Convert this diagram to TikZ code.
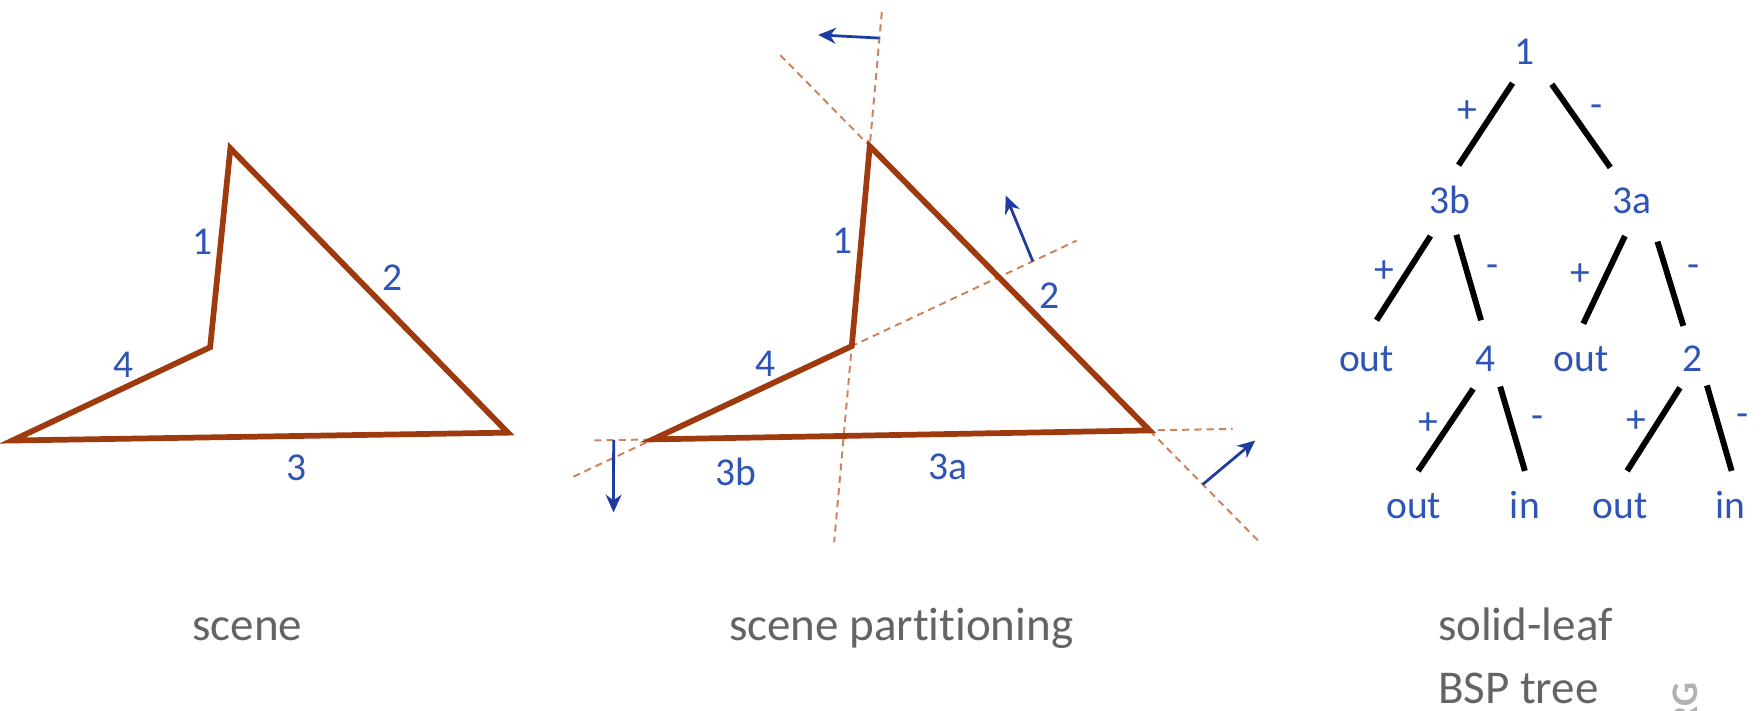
\documentclass[tikz,border=0pt]{standalone}
\usepackage{fontspec}
\setmainfont{Carlito}[Ligatures=NoCommon]
\usepackage{xcolor}
\usepackage{tikz}
\usetikzlibrary{
    arrows.meta,
    calc
}

\definecolor{wallbrown}{RGB}{158,58,14}
\definecolor{splitbrown}{RGB}{205,132,92}
\definecolor{normalblue}{RGB}{30,60,160}
\definecolor{labelblue}{RGB}{46,84,182}
\definecolor{captiongray}{RGB}{100,100,100}

\newcommand{\lblfont}{\fontsize{10}{12}\selectfont}
\newcommand{\capfont}{\fontsize{11.9}{14}\selectfont}

\begin{document}
\begin{tikzpicture}[
    x=0.01cm,
    y=-0.01cm,
    >={Stealth[length=4.5pt,width=4pt]},
    wall/.style={
        draw=wallbrown,
        line width=1.45pt
    },
    splitline/.style={
        draw=splitbrown,
        line width=0.5pt,
        dash pattern=on 1.8pt off 1.3pt
    },
    normalarrow/.style={
        ->,
        draw=normalblue,
        line width=0.7pt
    },
    lbl/.style={
        font=\lblfont,
        text=labelblue,
        inner sep=0pt
    },
    branch/.style={
        draw=black,
        line width=1.5pt
    },
    capt/.style={
        font=\capfont,
        text=captiongray,
        inner sep=0pt
    }
]

\useasboundingbox (0,0) rectangle (1568,632);

% ============================================================
% PANEL A -- SCENE
% ============================================================

\coordinate (sTop)   at (205,132);
\coordinate (sIn)    at (187,309);
\coordinate (sLeft)  at (11,392);
\coordinate (sRight) at (452,385);

\draw[wall]
    (sTop) -- (sRight) -- (sLeft) -- (sIn) -- cycle;

\node[lbl] (sEdge1) at (180,215) {1};
\node[lbl] (sEdge2) at (349,247) {2};
\node[lbl] (sEdge4) at (110,325) {4};
\node[lbl] (sEdge3) at (264,416) {3};

\node[capt, anchor=base] (capScene) at (220,570) {scene};

% ============================================================
% PANEL B -- SCENE PARTITIONING
% ============================================================

\coordinate (pTop)   at (774,130);
\coordinate (pIn)    at (758,308);
\coordinate (pLeft)  at (581,391);
\coordinate (pRight) at (1023,383);

% Splitting planes
\draw[splitline]
    ($(pTop)!-0.67!(pIn)$) -- ($(pTop)!1.98!(pIn)$);

\draw[splitline]
    ($(pTop)!-0.32!(pRight)$) -- ($(pTop)!1.395!(pRight)$);

\draw[splitline]
    ($(pLeft)!-0.40!(pIn)$) -- ($(pLeft)!2.13!(pIn)$);

\draw[splitline]
    ($(pLeft)!-0.118!(pRight)$) -- ($(pLeft)!1.167!(pRight)$);

% Polygon
\draw[wall]
    (pTop) -- (pRight) -- (pLeft) -- (pIn) -- cycle;

% Plane normals
\coordinate (nOneS) at ($(pTop)!-0.54!(pIn)$);
\coordinate (nOneE) at (728,31);
\draw[normalarrow] (nOneS) -- (nOneE);

\coordinate (nFourS) at ($(pLeft)!1.91!(pIn)$);
\coordinate (nFourE) at (895,174);
\draw[normalarrow] (nFourS) -- (nFourE);

\coordinate (nThreeS) at ($(pLeft)!-0.079!(pRight)$);
\coordinate (nThreeE) at (546,456);
\draw[normalarrow] (nThreeS) -- (nThreeE);

\coordinate (nTwoS) at ($(pTop)!1.19!(pRight)$);
\coordinate (nTwoE) at (1117,392);
\draw[normalarrow] (nTwoS) -- (nTwoE);

\node[lbl] (pEdge1)  at (750,214) {1};
\node[lbl] (pEdge2)  at (934,263) {2};
\node[lbl] (pEdge4)  at (681,324) {4};
\node[lbl] (pEdge3b) at (655,420) {3b};
\node[lbl] (pEdge3a) at (844,415) {3a};

\node[capt, anchor=base] (capPart) at (802,570) {scene partitioning};

% ============================================================
% PANEL C -- SOLID-LEAF BSP TREE
% ============================================================

\node[lbl, anchor=base] (t1)    at (1357,57)  {1};
\node[lbl, anchor=base] (t3b)   at (1290,190) {3b};
\node[lbl, anchor=base] (t3a)   at (1452,190) {3a};
\node[lbl, anchor=base] (tOutA) at (1216,331) {out};
\node[lbl, anchor=base] (t4)    at (1322,331) {4};
\node[lbl, anchor=base] (tOutB) at (1407,331) {out};
\node[lbl, anchor=base] (t2)    at (1506,331) {2};
\node[lbl, anchor=base] (tOutC) at (1258,461) {out};
\node[lbl, anchor=base] (tInA)  at (1357,461) {in};
\node[lbl, anchor=base] (tOutD) at (1442,461) {out};
\node[lbl, anchor=base] (tInB)  at (1540,461) {in};

% Branches
\draw[branch] ($(t1.base)+(-11,17)$)  -- ($(t3b.base)+(8,-43)$);
\draw[branch] ($(t1.base)+(24,18)$)   -- ($(t3a.base)+(-19,-41)$);
\draw[branch] ($(t3b.base)+(-17,20)$) -- ($(tOutA.base)+(9,-46)$);
\draw[branch] ($(t3b.base)+(6,19)$)   -- ($(t4.base)+(-4,-46)$);
\draw[branch] ($(t3a.base)+(-6,20)$)  -- ($(tOutB.base)+(2,-43)$);
\draw[branch] ($(t3a.base)+(23,25)$)  -- ($(t2.base)+(-8,-41)$);
\draw[branch] ($(t4.base)+(-11,15)$)  -- ($(tOutC.base)+(4,-42)$);
\draw[branch] ($(t4.base)+(13,13)$)   -- ($(tInA.base)+(0,-42)$);
\draw[branch] ($(t2.base)+(-11,14)$)  -- ($(tOutD.base)+(6,-42)$);
\draw[branch] ($(t2.base)+(13,12)$)   -- ($(tInB.base)+(1,-42)$);

% Sides
\node[lbl] (sgA) at (1306,99)  {+};
\node[lbl] (sgB) at (1421,99)  {-};
\node[lbl] (sgC) at (1232,242) {+};
\node[lbl] (sgD) at (1328,241) {-};
\node[lbl] (sgE) at (1406,244) {+};
\node[lbl] (sgF) at (1507,241) {-};
\node[lbl] (sgG) at (1271,377) {+};
\node[lbl] (sgH) at (1368,376) {-};
\node[lbl] (sgI) at (1456,375) {+};
\node[lbl] (sgJ) at (1551,374) {-};

\node[capt, anchor=base west] (capTree)  at (1279,570) {solid-leaf};
\node[capt, anchor=base west] (capTreeB) at (1279,626) {BSP tree};

\node[
    font=\bfseries\fontsize{9.5}{10}\selectfont,
    text=black!30,
    rotate=90,
    anchor=east,
    inner sep=0pt
] (wmark) at (1500,607) {RG};

\end{tikzpicture}
\end{document}
